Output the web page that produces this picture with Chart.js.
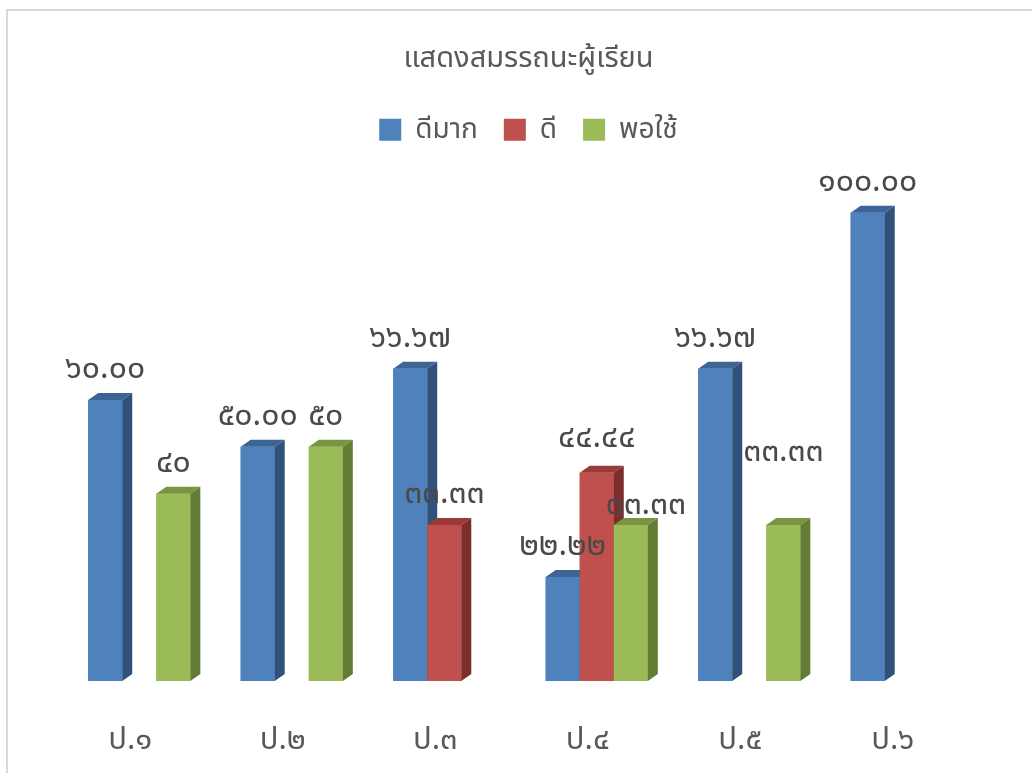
<!DOCTYPE html>
<html>
<head>
<meta charset="utf-8">
<script src="https://cdn.jsdelivr.net/npm/chart.js@4"></script>
<style>
  html, body { margin: 0; padding: 0; background: #fff; overflow: hidden; }
  #wrap { position: relative; width: 1032px; height: 773px; }
  #frame { position: absolute; left: 6px; top: 9px; width: 1100px; height: 900px;
           border: 2px solid #d9d9d9; box-sizing: border-box; pointer-events: none; }
</style>
</head>
<body>
<div id="wrap">
  <canvas id="chart1" width="1032" height="773"></canvas>
  <div id="frame"></div>
</div>
<script>
"use strict"

// categories and series
const classes = ['ป.๑', 'ป.๒', 'ป.๓', 'ป.๔', 'ป.๕', 'ป.๖']
const seriesNames = ['ดีมาก', 'ดี', 'พอใช้']
const veryGood = [60, 50, 66.67, 22.22, 66.67, 100]
const good = [null, null, 33.33, 44.44, null, null]
const fair = [40, 50, null, 33.33, 33.33, null]
// label text as printed in the chart (Thai digits)
const veryGoodText = ['๖๐.๐๐', '๕๐.๐๐', '๖๖.๖๗', '๒๒.๒๒', '๖๖.๖๗', '๑๐๐.๐๐']
const goodText = ['', '', '๓๓.๓๓', '๔๔.๔๔', '', '']
const fairText = ['๔๐', '๕๐', '', '๓๓.๓๓', '๓๓.๓๓', '']

const FONT = "'Noto Sans', 'Noto Sans Thai', Tahoma, sans-serif"
const faces = [
    {front: '#4f81bd', top: '#3c6494', side: '#30527a'},
    {front: '#c0504d', top: '#9a3b38', side: '#7c2e2c'},
    {front: '#9bbb59', top: '#789641', side: '#647d34'}
]
const texts = [veryGoodText, goodText, fairText]
// a few labels were dragged by hand in the original
const nudge = {'1-3': [0, -4], '2-3': [15, 11], '2-4': [0, -42]}
const DX = 10, DY = 7

// fake 3D: front, top and side faces, series by series so neighbours overlap right
const bars3d = {
    id: 'bars3d',
    beforeLayout(chart) {
        // fixed legend block so the plot starts where the original does
        const lg = chart.legend
        if (lg && !lg._patched) {
            const fit = lg.fit
            lg.fit = function () { fit.call(this); this.height = 76 }
            lg._patched = true
        }
    },
    afterDatasetsDraw(chart) {
        const ctx = chart.ctx
        ctx.save()
        chart.data.datasets.forEach((ds, d) => {
            const f = faces[d]
            chart.getDatasetMeta(d).data.forEach((bar, i) => {
                if (ds.data[i] == null) return
                const p = bar.getProps(['x', 'y', 'base', 'width'], true)
                const l = p.x - p.width / 2, r = p.x + p.width / 2
                ctx.fillStyle = f.front
                ctx.fillRect(l, p.y, p.width, p.base - p.y)
                ctx.fillStyle = f.top
                ctx.beginPath()
                ctx.moveTo(l, p.y); ctx.lineTo(l + DX, p.y - DY)
                ctx.lineTo(r + DX, p.y - DY); ctx.lineTo(r, p.y)
                ctx.closePath(); ctx.fill()
                ctx.fillStyle = f.side
                ctx.beginPath()
                ctx.moveTo(r, p.y); ctx.lineTo(r + DX, p.y - DY)
                ctx.lineTo(r + DX, p.base - DY); ctx.lineTo(r, p.base)
                ctx.closePath(); ctx.fill()
            })
        })
        // data labels
        ctx.font = '32px ' + FONT
        ctx.fillStyle = '#4a4a4a'
        ctx.textAlign = 'center'
        ctx.textBaseline = 'middle'
        chart.data.datasets.forEach((ds, d) => {
            chart.getDatasetMeta(d).data.forEach((bar, i) => {
                const t = texts[d][i]
                if (!t) return
                const n = nudge[d + '-' + i] || [0, 0]
                ctx.fillText(t, bar.x + n[0], bar.y - 31 + n[1])
            })
        })
        ctx.restore()
    }
}

const ctx = document.getElementById('chart1')
new Chart(ctx, {
    type: 'bar',
    data: {
        labels: classes,
        datasets: [
            {label: seriesNames[0], data: veryGood, backgroundColor: faces[0].front},
            {label: seriesNames[1], data: good, backgroundColor: faces[1].front},
            {label: seriesNames[2], data: fair, backgroundColor: faces[2].front}
        ]
    },
    options: {
        responsive: false,
        animation: false,
        events: [],
        datasets: {bar: {categoryPercentage: 0.67, barPercentage: 1.0}},
        layout: {padding: {left: 63, right: 38, top: 0, bottom: 0}},
        plugins: {
            title: {
                display: true,
                text: 'แสดงสมรรถนะผู้เรียน',
                color: '#595959',
                font: {family: FONT, size: 29, weight: 'normal'},
                padding: {top: 41, bottom: 14}
            },
            legend: {
                display: true,
                labels: {
                    color: '#595959',
                    font: {family: FONT, size: 28},
                    boxWidth: 22, boxHeight: 22,
                    padding: 26
                }
            },
            tooltip: {enabled: false}
        },
        scales: {
            x: {
                grid: {display: false, drawTicks: false},
                border: {display: false},
                ticks: {color: '#595959', font: {family: FONT, size: 31}, padding: 41, labelOffset: -9},
                afterFit: (scale) => { scale.height = 92 }
            },
            y: {
                display: false,
                min: 0,
                max: 110
            },
            // empty strip on the right, shifts the title and legend like the original
            y2: {
                position: 'right',
                grid: {display: false},
                border: {display: false},
                ticks: {display: false},
                afterFit: (scale) => { scale.width = 16 }
            }
        }
    },
    plugins: [bars3d]
})
</script>
</body>
</html>
